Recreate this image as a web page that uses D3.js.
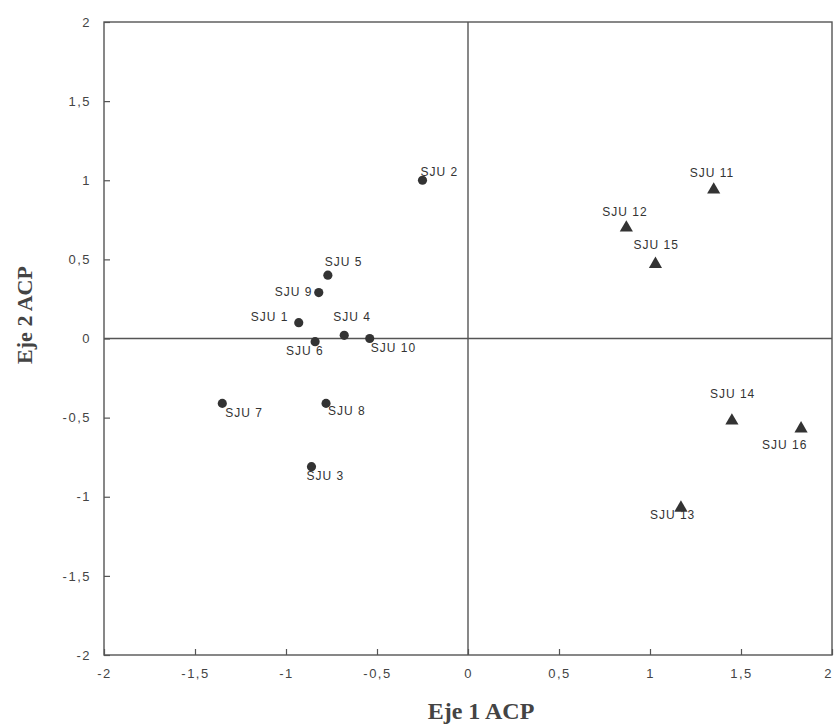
<!DOCTYPE html>
<html>
<head>
<meta charset="utf-8">
<script src="https://cdn.jsdelivr.net/npm/d3@7"></script>
<style>
  html, body { margin: 0; padding: 0; background: #fff; }
  svg { display: block; }
</style>
</head>
<body>
<svg id="chart" width="835" height="725"></svg>
<script>
// Site scores on the first two PCA axes
const sites = ["SJU 1","SJU 2","SJU 3","SJU 4","SJU 5","SJU 6","SJU 7","SJU 8","SJU 9","SJU 10",
               "SJU 11","SJU 12","SJU 13","SJU 14","SJU 15","SJU 16"];
const eje1 = [-0.93,-0.25,-0.86,-0.68,-0.77,-0.84,-1.35,-0.78,-0.82,-0.54,
               1.35, 0.87, 1.17, 1.45, 1.03, 1.83];
const eje2 = [ 0.10, 1.00,-0.81, 0.02, 0.40,-0.02,-0.41,-0.41, 0.29, 0.00,
               0.94, 0.70,-1.07,-0.52, 0.47,-0.57];
// group: 0 = circle, 1 = triangle
const grupo = [0,0,0,0,0,0,0,0,0,0,1,1,1,1,1,1];

const xTicks = [-2,-1.5,-1,-0.5,0,0.5,1,1.5,2];
const yTicks = [-2,-1.5,-1,-0.5,0,0.5,1,1.5,2];

// label placement (text start / baseline relative to the marker)
const labelShift = [[-48,-2],[-2,-4],[-5,13],[-11,-14],[-3,-9],[-29,13],[3,14],[2,12],[-44,3],[1,13],
                    [-24,-13],[-24,-12],[-31,11],[-22,-23],[-22,-15],[-39,20]];

const svg = d3.select("#chart");
const L = 104, R = 832, T = 22, B = 655;
const x = d3.scaleLinear().domain([-2, 2]).range([L, R]);
const y = d3.scaleLinear().domain([-2, 2]).range([B, T]);
const ink = "#555";
const fmt = d => String(d).replace(".", ",");

// frame
svg.append("rect").attr("x", L).attr("y", T).attr("width", R - L).attr("height", B - T)
  .attr("fill", "none").attr("stroke", ink).attr("stroke-width", 1.4);

// zero lines
svg.append("line").attr("x1", x(0)).attr("x2", x(0)).attr("y1", T).attr("y2", B)
  .attr("stroke", ink).attr("stroke-width", 1.4);
svg.append("line").attr("x1", L).attr("x2", R).attr("y1", y(0)).attr("y2", y(0))
  .attr("stroke", ink).attr("stroke-width", 1.4);

// axes with inward ticks
const xAxis = d3.axisBottom(x).tickValues(xTicks).tickSizeInner(-6).tickSizeOuter(0)
  .tickPadding(14).tickFormat(fmt);
const gx = svg.append("g").attr("transform", `translate(0,${B})`).call(xAxis);
const yAxis = d3.axisLeft(y).tickValues(yTicks).tickSizeInner(-6).tickSizeOuter(0)
  .tickPadding(13).tickFormat(fmt);
const gy = svg.append("g").attr("transform", `translate(${L},0)`).call(yAxis);
[gx, gy].forEach(g => {
  g.select(".domain").remove();
  g.selectAll(".tick line").attr("stroke", ink).attr("stroke-width", 1.2);
  g.selectAll(".tick text").attr("fill", "#444")
    .style("font-family", "Liberation Sans, Arial, sans-serif").style("font-size", "13px")
    .style("letter-spacing", "1.5px");
});
// keep the last x label inside the page edge
gx.selectAll(".tick text").filter(d => d === 2).attr("dx", "-4px");

// axis titles
svg.append("text").attr("x", 481).attr("y", 719).attr("text-anchor", "middle")
  .style("font-family", "Liberation Serif, 'Times New Roman', serif").style("font-weight", "bold")
  .style("font-size", "24px").attr("fill", "#444").text("Eje 1 ACP");
svg.append("text").attr("transform", "translate(32,315) rotate(-90)").attr("text-anchor", "middle")
  .style("font-family", "Liberation Serif, 'Times New Roman', serif").style("font-weight", "bold")
  .style("font-size", "22px").attr("fill", "#444").text("Eje 2 ACP");

// markers
const idx = d3.range(sites.length);
const tri = d3.symbol().type(d3.symbolTriangle).size(75);
const dot = d3.symbol().type(d3.symbolCircle).size(66);
svg.append("g").selectAll("path").data(idx).join("path")
  .attr("transform", i => `translate(${x(eje1[i])},${y(eje2[i])})`)
  .attr("d", i => grupo[i] ? tri() : dot())
  .attr("fill", "#333");

// site labels
svg.append("g").selectAll("text").data(idx).join("text")
  .attr("x", i => x(eje1[i]) + labelShift[i][0])
  .attr("y", i => y(eje2[i]) + labelShift[i][1])
  .style("font-family", "Liberation Sans, Arial, sans-serif").style("font-size", "12px")
  .style("letter-spacing", "1px")
  .attr("fill", "#333").text(i => sites[i]);
</script>
</body>
</html>
